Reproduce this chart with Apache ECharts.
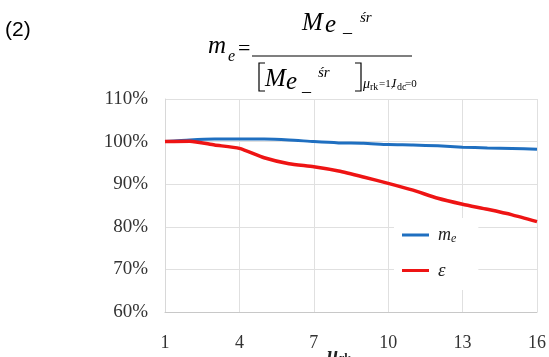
<!DOCTYPE html>
<html>
<head>
<meta charset="utf-8">
<script src="https://cdn.jsdelivr.net/npm/echarts@6/dist/echarts.min.js"></script>
<style>
html,body{margin:0;padding:0;background:#fff;}
#c{width:549px;height:357px;}
</style>
</head>
<body>
<div id="c"></div>
<script>
// ---- data ----
var xCategories = ['1','2','3','4','5','6','7','8','9','10','11','12','13','14','15','16'];
var meValues  = [100, 100.4, 100.6, 100.6, 100.6, 100.4, 100.0, 99.7, 99.6, 99.3, 99.2, 99.0, 98.7, 98.5, 98.4, 98.2];
var epsValues = [100, 100.1, 99.2, 98.4, 96.2, 94.8, 94.1, 93.1, 91.7, 90.2, 88.6, 86.7, 85.3, 84.1, 82.8, 81.2];
var yTicks = [60, 70, 80, 90, 100, 110];
var seriesNames = ['m_e', 'ε'];

var chart = echarts.init(document.getElementById('c'), null, {renderer: 'canvas'});

var SERIF = '"Liberation Serif", "Times New Roman", serif';

function T(text, x, baseline, size, italic, sx) {
  return {
    type: 'text',
    x: x,
    y: baseline - 0.34 * size,
    scaleX: sx || 1,
    silent: true,
    style: {
      text: text,
      x: 0,
      y: 0,
      font: (italic ? 'italic ' : '') + size + 'px ' + SERIF,
      fill: '#000',
      align: 'left',
      verticalAlign: 'middle'
    }
  };
}

var graphics = [
  {type: 'text', style: {text: '(2)', x: 5, y: 30, font: '21px "Liberation Sans", Arial, sans-serif', fill: '#000', verticalAlign: 'middle'}},
  // left side m_e =
  T('m', 208, 55, 25, true),
  T('e', 228, 62, 16, true),
  T('=', 238, 57, 22, false),
  // fraction bar
  {type: 'line', shape: {x1: 252, y1: 56, x2: 412, y2: 56}, style: {stroke: '#000', lineWidth: 1.2}},
  // numerator
  T('M', 302, 32, 25, true),
  T('e', 325, 34, 25, true),
  T('_', 343, 33, 18, false),
  T('śr', 360, 23, 15, true),
  // denominator bracket
  {type: 'polyline', shape: {points: [[265, 63], [259, 63], [259, 91], [265, 91]]}, style: {stroke: '#000', lineWidth: 1.2, fill: null}},
  T('M', 265, 88, 25, true),
  T('e', 286, 91, 25, true),
  T('_', 302, 92, 18, false),
  T('śr', 318, 78, 15, true),
  {type: 'polyline', shape: {points: [[355, 63], [361, 63], [361, 91], [355, 91]]}, style: {stroke: '#000', lineWidth: 1.2, fill: null}},
  // subscript of denominator
  T('μ', 363, 89, 14, true),
  T('rk', 370, 91, 10, false),
  T('=1,', 379, 88, 11, false),
  T('I', 392, 88, 13, true),
  T('dc', 397, 91, 10, false),
  T('=0', 405, 88, 11, false),
  // x axis name
  {type: 'text', style: {text: 'μ', x: 327, y: 346, font: 'italic bold 20px ' + SERIF, fill: '#222', verticalAlign: 'top'}},
  {type: 'text', style: {text: 'rk', x: 339, y: 353, font: 'bold 12px ' + SERIF, fill: '#222', verticalAlign: 'top'}}
];

var option = {
  animation: false,
  backgroundColor: '#fff',
  grid: {left: 165, right: 11, top: 99, bottom: 45, containLabel: false},
  xAxis: {
    type: 'category',
    data: xCategories,
    boundaryGap: false,
    axisLine: {show: true, lineStyle: {color: '#c8c8c8', width: 1}},
    axisTick: {show: false},
    axisLabel: {
      interval: 2,
      margin: 22,
      color: '#333',
      fontFamily: SERIF,
      fontSize: 18
    },
    splitLine: {show: true, interval: 2, lineStyle: {color: '#e0e0e0', width: 1}}
  },
  yAxis: {
    type: 'value',
    min: yTicks[0],
    max: yTicks[yTicks.length - 1],
    interval: 10,
    axisLine: {show: true, lineStyle: {color: '#d8d8d8'}},
    axisTick: {show: false},
    axisLabel: {
      margin: 17,
      color: '#333',
      fontFamily: SERIF,
      fontSize: 19,
      formatter: function (v) { return v + '%'; }
    },
    splitLine: {show: true, lineStyle: {color: '#e0e0e0', width: 1}}
  },
  legend: {
    data: seriesNames,
    orient: 'vertical',
    left: 394,
    top: 218,
    padding: [8, 22, 10, 8],
    backgroundColor: '#fff',
    icon: 'rect',
    itemWidth: 27,
    itemHeight: 3,
    itemGap: 16,
    textStyle: {
      fontFamily: SERIF,
      color: '#222',
      padding: [0, 0, 0, 4],
      rich: {
        m: {fontFamily: SERIF, fontStyle: 'italic', fontSize: 18, color: '#222', height: 20},
        sub: {fontFamily: SERIF, fontStyle: 'italic', fontSize: 12, color: '#222', padding: [8, 0, 0, 0]},
        eps: {fontFamily: SERIF, fontStyle: 'italic', fontSize: 19, color: '#222', height: 20}
      }
    },
    formatter: function (name) {
      if (name === 'm_e') return '{m|m}{sub|e}';
      return '{eps|ε}';
    }
  },
  series: [
    {
      name: seriesNames[0],
      type: 'line',
      data: meValues,
      symbol: 'none',
      smooth: 0.2,
      itemStyle: {color: '#1f6fc0'},
      lineStyle: {color: '#1f6fc0', width: 3},
      z: 2
    },
    {
      name: seriesNames[1],
      type: 'line',
      data: epsValues,
      symbol: 'none',
      smooth: 0.2,
      itemStyle: {color: '#ee1414'},
      lineStyle: {color: '#ee1414', width: 3.5},
      z: 3
    }
  ],
  graphic: graphics
};
chart.setOption(option);
</script>
</body>
</html>
